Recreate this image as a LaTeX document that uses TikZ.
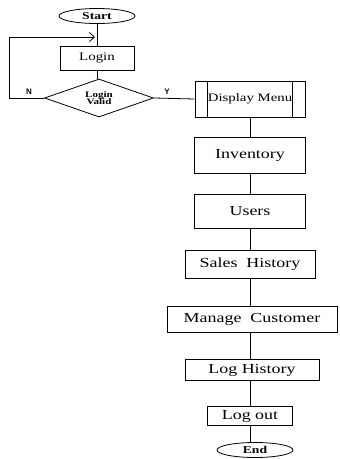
\documentclass[tikz,border=0pt]{standalone}
\usepackage{fontspec}
\setmainfont{Liberation Serif}[FakeStretch=1.3]
\setsansfont{Liberation Sans}
\usetikzlibrary{shapes.geometric,arrows.meta}
\begin{document}
\begin{tikzpicture}[x=1pt,y=-1pt,
  box/.style={draw,line width=0.8pt,rectangle,inner sep=0pt,font=\fontsize{13.8}{14}\selectfont},
  term/.style={draw,line width=0.8pt,ellipse,inner sep=0pt,minimum width=76pt,minimum height=15pt,font=\fontsize{10.5}{11}\selectfont\bfseries},
  conn/.style={line width=0.8pt},
  lbl/.style={font=\sffamily\fontsize{8}{9}\selectfont\bfseries}]
\useasboundingbox (0,0) rectangle (340,459);
\node[term] (start) at (97,16) {Start};
\node[box,minimum width=74pt,minimum height=24pt,font=\fontsize{11.5}{12}\selectfont] (login) at (97,58) {Login};
\node[draw,line width=0.8pt,diamond,aspect=2.9,inner sep=0pt,minimum width=109pt,minimum height=38pt,align=center,font=\fontsize{8.5}{8.5}\selectfont\bfseries] (valid) at (99,98) {Login\\[-1pt]Valid};
\node[box,minimum width=110pt,minimum height=36pt,font=\fontsize{11.4}{12}\selectfont] (menu) at (250,99) {Display Menu};
\draw[conn] ([xshift=13pt]menu.north west) -- ([xshift=13pt]menu.south west);
\draw[conn] ([xshift=-13pt]menu.north east) -- ([xshift=-13pt]menu.south east);
\node[box,minimum width=111pt,minimum height=36pt] (inv) at (250,155) {Inventory};
\node[box,minimum width=111pt,minimum height=34pt] (users) at (250,211) {Users};
\node[box,minimum width=130pt,minimum height=28pt] (sales) at (250,264) {Sales\ \ History};
\node[box,minimum width=170pt,minimum height=26pt] (cust) at (252,319) {Manage\ \ Customer};
\node[box,minimum width=134pt,minimum height=21pt] (loghist) at (252,370) {Log History};
\node[box,minimum width=85pt,minimum height=19pt] (logout) at (250,416) {Log out};
\node[term] (end) at (255,450) {End};
\coordinate (loopend) at (97,37);
\draw[conn] (start.south) -- (login.north);
\draw[conn] (login.south) -- (login.south |- valid.north);
\draw[conn,-{Straight Barb[length=5pt,width=9pt]}] (valid.west) -- (9,98) |- ([xshift=-2pt]loopend);
\draw[conn] (valid.east) -- (menu.west);
\node[lbl] (nlab) at (29,92) {N};
\node[lbl] (ylab) at (167,92) {Y};
\draw[conn] (menu.south -| inv.north) -- (inv.north);
\draw[conn] (inv.south) -- (users.north);
\draw[conn] (users.south) -- (sales.north);
\draw[conn] (sales.south) -- (sales.south |- cust.north);
\draw[conn] (sales.south |- cust.south) -- (sales.south |- loghist.north);
\draw[conn] (sales.south |- loghist.south) -- (logout.north);
\draw[conn] (logout.south) -- (logout.south |- end.north);
\end{tikzpicture}
\end{document}
